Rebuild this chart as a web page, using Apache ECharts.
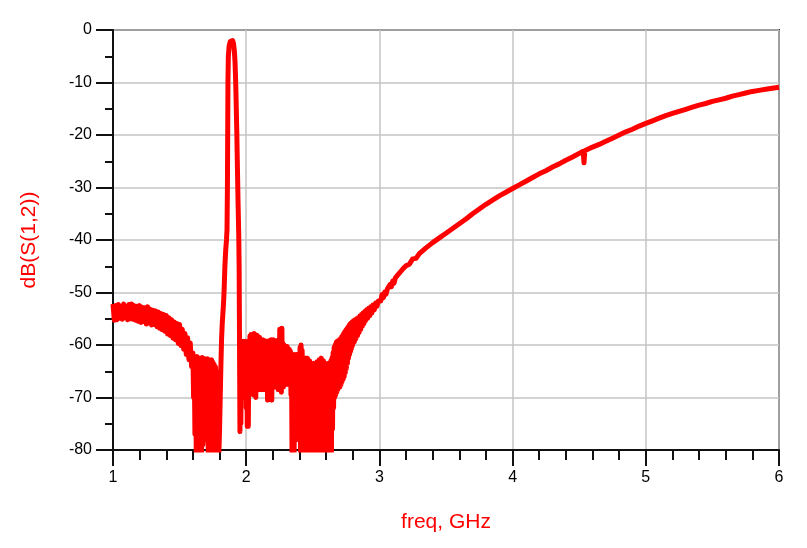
<!DOCTYPE html>
<html>
<head>
<meta charset="utf-8">
<script src="https://cdn.jsdelivr.net/npm/echarts@6/dist/echarts.min.js"></script>
<style>
html,body{margin:0;padding:0;background:#fff;}
#c{width:807px;height:548px;}
</style>
</head>
<body>
<div id="c"></div>
<script>
// ---- tick labels ----
const xTicks = [1, 2, 3, 4, 5, 6];
const yTicks = [0, -10, -20, -30, -40, -50, -60, -70, -80];

// ---- measured dB(S(1,2)) vs freq (GHz), read off the plot ----
// low-frequency noisy floor
const freqA = [
1.00,1.01,1.02,1.03,1.04,1.05,1.06,1.07,1.08,1.09,
1.10,1.11,1.12,1.13,1.14,1.15,1.16,1.17,1.18,1.19,
1.20,1.21,1.22,1.23,1.24,1.25,1.26,1.27,1.28,1.29,
1.30,1.31,1.32,1.33,1.34,1.35,1.36,1.37,1.38,1.39,
1.40,1.41,1.42,1.43,1.44,1.45,1.46,1.47,1.48,1.49,
1.50,1.51,1.52,1.53,1.54,1.55,1.56,1.57,1.58,1.59,
1.60];
const dbA = [
-52.2,-55.3,-52.5,-55.2,-52.3,-54.9,-52.6,-55.1,-52.2,-54.8,
-52.6,-55.2,-52.3,-55.0,-52.2,-55.1,-52.5,-55.3,-52.6,-55.5,
-52.5,-55.7,-52.8,-55.5,-52.9,-56.0,-52.7,-55.8,-53.2,-56.2,
-53.4,-56.1,-53.5,-56.5,-53.7,-56.8,-54.0,-57.1,-54.2,-57.4,
-54.4,-57.9,-54.8,-58.2,-55.2,-58.7,-55.6,-59.0,-55.9,-59.7,
-56.1,-60.1,-57.0,-60.8,-57.8,-61.8,-58.6,-62.8,-59.6,-64.1,
-61.5];

// deep noisy dip before the passband
const freqB = [
1.605,1.610,1.615,1.620,1.625,1.630,1.635,1.640,1.645,1.650,
1.655,1.660,1.665,1.670,1.675,1.680,1.685,1.690,1.695,1.700,
1.705,1.710,1.715,1.720,1.725,1.730,1.735,1.740,1.745,1.750,
1.755,1.760,1.765,1.770,1.775,1.780,1.785,1.790,1.795];
const dbB = [
-70,-62.5,-77,-62.8,-80.5,-62.2,-80.5,-63.0,-80.5,-62.5,
-80.5,-62.7,-80.5,-62.4,-79,-62.8,-77.5,-62.6,-78,-63.0,
-77,-62.6,-80.5,-62.8,-80.5,-63.1,-80.5,-62.8,-80.5,-63.3,
-80.5,-63.7,-80.5,-64.2,-80.5,-65.2,-80.5,-67.5,-80.5];

// passband peak
const freqC = [
1.800,1.805,1.810,1.815,1.820,1.825,1.830,1.835,1.840,1.846,
1.852,1.856,1.859,1.861,1.863,1.866,1.872,1.880,1.890,1.898,
1.905,1.911,1.916,1.920,1.924,1.929,1.934,1.939,1.944,1.947,
1.949,1.951,1.953];
const dbC = [
-76,-70,-64,-59,-56,-54,-52,-49,-45,-42,
-40,-38,-30,-20,-10,-5,-3,-2.2,-1.9,-2.0,
-2.6,-4,-6,-9,-13,-19,-26,-33,-39,-45,
-55,-66,-76.5];

// noisy stopband after the peak
const freqD = [
1.956,1.960,1.964,1.968,1.972,1.976,1.980,1.984,1.988,1.992,
1.996,2.000,2.004,2.008,2.012,2.016,2.020,2.024,2.028,2.032,
2.036,2.040,2.044,2.048,2.052,2.056,2.060,2.064,2.068,2.072,
2.076,2.080,2.084,2.088,2.092,2.096,2.100,2.104,2.108,2.112,
2.116,2.120,2.124,2.128,2.132,2.136,2.140,2.144,2.148,2.152,
2.156,2.160,2.164,2.168,2.172,2.176,2.180,2.184,2.188,2.192,
2.196,2.200,2.204,2.208,2.212,2.216,2.220,2.224,2.228,2.232,
2.236,2.240,2.244,2.248,2.252,2.256,2.260,2.264,2.268,2.272,
2.276,2.280,2.284,2.288,2.292,2.296,2.300,2.304,2.308,2.312,
2.316,2.320,2.324,2.328,2.332,2.336,2.340,2.344,2.348,2.352,
2.356,2.360,2.364,2.368,2.372,2.376,2.380,2.384,2.388,2.392,
2.396,2.400,2.404,2.408,2.412,2.416,2.420,2.424,2.428,2.432,
2.436,2.440,2.444,2.448,2.452,2.456,2.460,2.464,2.468,2.472,
2.476,2.480,2.484,2.488,2.492,2.496,2.500,2.504,2.508,2.512,
2.516,2.520,2.524,2.528,2.532,2.536,2.540,2.544,2.548,2.552,
2.556,2.560,2.564,2.568,2.572,2.576,2.580,2.584,2.588,2.592,
2.596,2.600,2.604,2.608,2.612,2.616,2.620,2.624,2.628,2.632,
2.636,2.640,2.644,2.648,2.652,2.656,2.660,2.664,2.668,2.672,
2.676,2.680,2.684,2.688,2.692,2.696,2.700];
const dbD = [
-60,-75,-59.3,-68,-59.8,-70,-59.3,-67.5,-59.8,-69,
-59.3,-72,-59.8,-75.5,-60.3,-75.5,-59.3,-69.5,-58.3,-68,
-58,-68.5,-58.5,-67,-58,-69.5,-57.8,-67.5,-58,-70,
-58.3,-66.5,-58.2,-68,-58.8,-68.5,-58.5,-66.5,-59,-68.5,
-59,-67,-59,-68.5,-59.3,-66.5,-59.2,-68,-59.7,-67,
-59.3,-70.5,-59.7,-68.5,-59.2,-67,-59.5,-68.5,-59,-70.5,
-59.5,-67.5,-59,-66,-59.7,-68,-59.3,-66.5,-59.2,-67.5,
-59.7,-68.5,-59,-66.5,-57,-67,-59.3,-69,-56.8,-66.5,
-59.7,-68,-60,-66.5,-60.2,-67.5,-60.7,-67,-60.3,-67.5,
-61.2,-67,-60.8,-67.5,-61.2,-69.5,-61.7,-80.5,-62.2,-80.5,
-62.5,-80.5,-61.8,-78,-62.2,-76,-61.8,-78,-62.5,-73,
-62,-77,-60.5,-80.5,-60,-80.5,-61,-80.5,-62.5,-80.5,
-62.8,-80.5,-62.5,-80.5,-63,-80.5,-62.5,-80.5,-63.5,-80.5,
-63,-80.5,-63.8,-80.5,-63.5,-80.5,-64,-80.5,-63.5,-80.5,
-63.8,-80.5,-64,-80.5,-63.2,-80.5,-63.5,-80.5,-62.8,-80.5,
-63.5,-80.5,-62.5,-80.5,-63.5,-80.5,-63,-79,-64,-80.5,
-63.5,-80.5,-64,-80.5,-63.8,-80.5,-63.5,-78,-64,-80.5,
-63,-80.5,-62.5,-76,-61.5,-72,-60.5,-70,-60,-69.5,
-59.5,-69,-59.3,-68.5,-59.2,-68,-59];

// recovering edge, noise narrowing
const freqE = [
2.704,2.708,2.712,2.716,2.720,2.724,2.728,2.732,2.736,2.740,
2.744,2.748,2.752,2.756,2.760,2.764,2.768,2.772,2.776,2.780,
2.784,2.788,2.792,2.796,2.800,2.806,2.812,2.818,2.824,2.830,
2.836,2.842,2.848,2.854,2.860,2.866,2.872,2.878,2.884,2.890,
2.896,2.904,2.912,2.920,2.928,2.936,2.944,2.952,2.962,2.972,
2.982,2.992,3.000];
const dbE = [
-68,-58.8,-67.5,-58.5,-67,-58.2,-66.5,-57.8,-66,-57.5,
-65.3,-57.2,-64.5,-56.9,-63.5,-56.6,-62.5,-56.3,-61.8,-56,
-61.2,-55.8,-60.6,-55.6,-60,-55.4,-59.4,-55.2,-58.8,-55,
-58.2,-54.8,-57.6,-54.5,-57,-54.2,-56.4,-53.9,-55.9,-53.6,
-55.4,-53.3,-54.9,-53,-54.4,-52.7,-53.9,-52.4,-53.3,-52,
-52.6,-51.6,-51.5];

// smooth rise to 6 GHz (small notch near 4.54 GHz)
const freqF = [
3.01,3.02,3.03,3.04,3.05,3.06,3.07,3.08,3.09,3.10,
3.11,3.12,3.13,3.14,3.15,3.16,3.17,3.18,3.19,3.20,
3.225,3.25,3.275,3.30,3.35,3.40,3.45,3.50,
3.55,3.60,3.65,3.70,3.75,3.80,3.85,3.90,3.95,4.00,
4.05,4.10,4.15,4.20,4.25,4.30,4.35,4.40,4.45,4.50,
4.53,4.536,4.542,
4.55,4.60,4.65,4.70,4.75,4.80,4.85,4.90,4.95,5.00,
5.05,5.10,5.15,5.20,5.25,5.30,5.35,5.40,5.45,5.50,
5.55,5.60,5.65,5.70,5.75,5.80,5.85,5.90,5.95,6.00];
const dbF = [
-51.6,-50.4,-51.0,-49.9,-50.3,-49.3,-49.6,-48.5,-48.9,-47.8,
-48.2,-47.2,-47.5,-46.6,-46.8,-46.0,-46.3,-45.4,-45.7,-44.9,
-44.6,-43.6,-43.5,-42.6,-41.5,-40.5,-39.6,-38.7,
-37.8,-36.9,-36.0,-35.0,-34.1,-33.2,-32.4,-31.6,-30.9,-30.2,
-29.5,-28.8,-28.1,-27.4,-26.8,-26.1,-25.5,-24.8,-24.2,-23.5,
-23.1,-25.3,-23.0,
-22.9,-22.3,-21.8,-21.2,-20.6,-20.0,-19.4,-18.9,-18.3,-17.8,
-17.3,-16.8,-16.3,-15.9,-15.5,-15.1,-14.7,-14.3,-14.0,-13.6,
-13.3,-13.0,-12.6,-12.3,-12.0,-11.7,-11.5,-11.3,-11.1,-10.9];

const freqAll = [].concat(freqA, freqB, freqC, freqD, freqE, freqF);
const dbAll = [].concat(dbA, dbB, dbC, dbD, dbE, dbF);
if (freqAll.length !== dbAll.length) {
  throw new Error('length mismatch ' + freqAll.length + ' vs ' + dbAll.length);
}
const seriesData = freqAll.map((f, i) => [f, dbAll[i]]);

const FONT = 'Liberation Sans, Arial, sans-serif';
const AXIS_COLOR = '#111';

const chart = echarts.init(document.getElementById('c'), null, {renderer: 'canvas'});
chart.setOption({
  animation: false,
  backgroundColor: '#fff',
  grid: {
    left: 113, right: 28, top: 30, bottom: 98,
    show: true, borderColor: '#333', borderWidth: 2, backgroundColor: 'transparent'
  },
  xAxis: {
    type: 'value',
    min: xTicks[0], max: xTicks[xTicks.length - 1], interval: 1,
    name: 'freq, GHz', nameLocation: 'middle', nameGap: 62,
    nameTextStyle: {color: '#ff0000', fontSize: 21, fontFamily: FONT},
    axisLine: {show: true, onZero: false, lineStyle: {color: AXIS_COLOR, width: 2}},
    axisTick: {show: true, inside: false, length: 16, lineStyle: {color: AXIS_COLOR, width: 2}},
    minorTick: {show: true, splitNumber: 5, length: 10, lineStyle: {color: AXIS_COLOR, width: 2}},
    axisLabel: {color: '#000', fontSize: 16, margin: 20, fontFamily: FONT},
    splitLine: {show: true, lineStyle: {color: '#c4c4c4', width: 1.5}},
    minorSplitLine: {show: false}
  },
  yAxis: {
    type: 'value',
    min: yTicks[yTicks.length - 1], max: yTicks[0], interval: 10,
    name: 'dB(S(1,2))', nameLocation: 'middle', nameGap: 73, nameRotate: 90,
    nameTextStyle: {color: '#ff0000', fontSize: 21, fontFamily: FONT},
    axisLine: {show: true, onZero: false, lineStyle: {color: AXIS_COLOR, width: 2}},
    axisTick: {show: true, inside: false, length: 17, lineStyle: {color: AXIS_COLOR, width: 2}},
    minorTick: {show: true, splitNumber: 2, length: 8, lineStyle: {color: AXIS_COLOR, width: 2}},
    axisLabel: {color: '#000', fontSize: 16, margin: 21, fontFamily: FONT},
    splitLine: {show: true, lineStyle: {color: '#c4c4c4', width: 1.5}},
    minorSplitLine: {show: false}
  },
  series: [{
    type: 'line',
    data: seriesData,
    showSymbol: false,
    symbol: 'none',
    clip: true,
    lineStyle: {color: '#ff0000', width: 5, join: 'round'},
    emphasis: {disabled: true}
  }]
});
</script>
</body>
</html>
